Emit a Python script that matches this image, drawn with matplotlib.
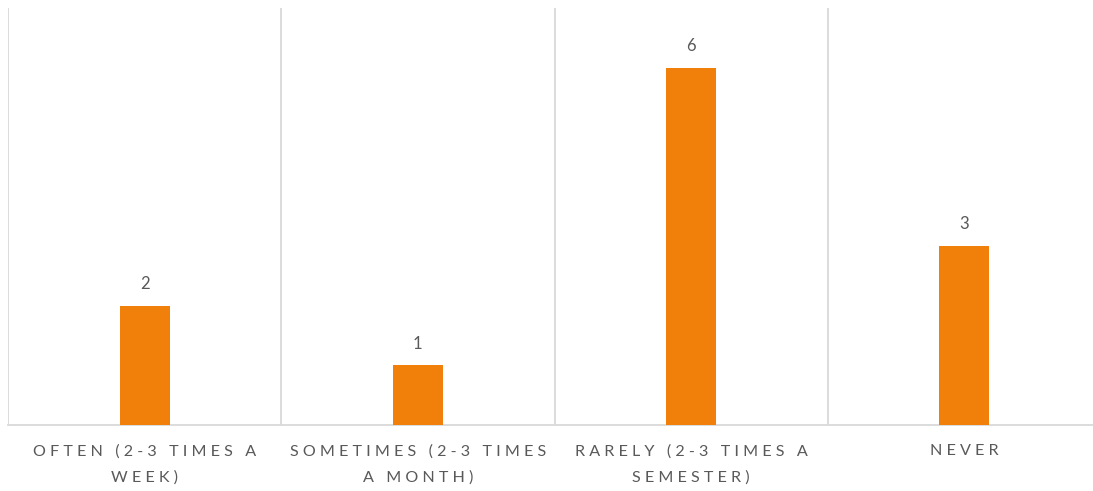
import matplotlib
matplotlib.use('Agg')
import matplotlib.pyplot as plt
import numpy as np

# Chart data
categories = ['OFTEN (2-3 TIMES A\nWEEK)', 'SOMETIMES (2-3 TIMES\nA MONTH)',
              'RARELY (2-3 TIMES A\nSEMESTER)', 'NEVER']
counts = [2, 1, 6, 3]

bar_color = '#F0800A'
text_color = '#595959'
grid_color = '#D9D9D9'

plt.rcParams['font.family'] = ['Lato', 'DejaVu Sans']


def spaced(label):
    # imitate the wide letter spacing of the original
    return '\n'.join(' '.join(list(line)) for line in label.split('\n'))


fig = plt.figure(figsize=(10.93, 4.91), dpi=100)
# right edge sits a little outside the picture, as in the reference
ax = fig.add_axes([8 / 1093, 1 - 425 / 491, (1101 - 8) / 1093, (425 - 8) / 491])

x = np.arange(len(categories))
ax.bar(x, counts, width=0.183, color=bar_color, zorder=3)

ax.set_xlim(-0.5, len(categories) - 0.5)
ax.set_ylim(0, 7)

# vertical separators between categories
for b in np.arange(-0.5, len(categories), 1.0):
    ax.axvline(b, color=grid_color, linewidth=1.3, zorder=1)

for s in ['top', 'right', 'left']:
    ax.spines[s].set_visible(False)
ax.spines['bottom'].set_color(grid_color)
ax.spines['bottom'].set_linewidth(1.3)

ax.set_yticks([])
ax.set_xticks(x)
ax.set_xticklabels([spaced(c) for c in categories], color=text_color,
                   fontsize=11.6, linespacing=2.0)
ax.tick_params(axis='x', length=0, pad=14)

for xi, v in zip(x, counts):
    ax.annotate(str(v), (xi, v), xytext=(0, 10), textcoords='offset points',
                ha='center', va='bottom', color=text_color, fontsize=12)

fig.savefig('out.png', dpi=100)
